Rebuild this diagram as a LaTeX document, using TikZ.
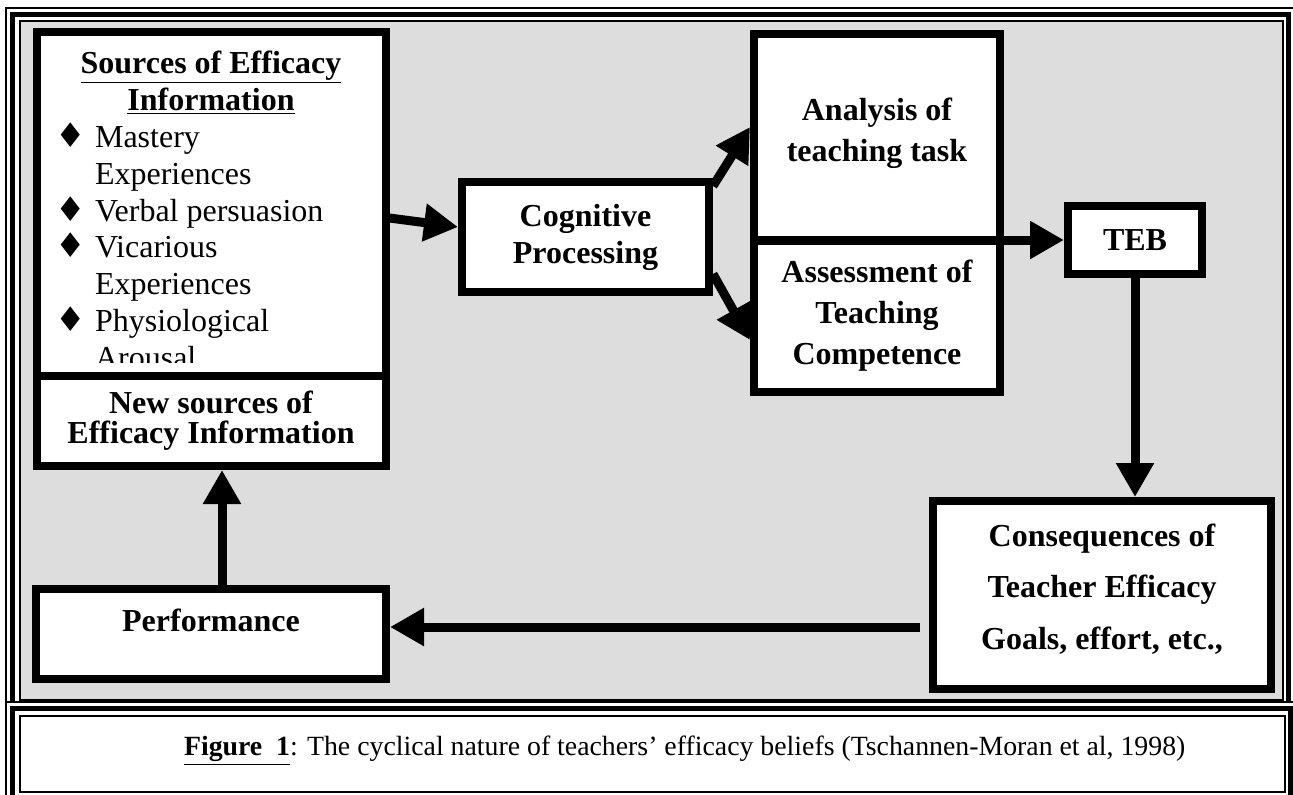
\documentclass[tikz,border=0pt]{standalone}
\usepackage{fontspec}
\setmainfont{Liberation Serif}
\newfontfamily\symfont{DejaVu Sans}
\usetikzlibrary{arrows.meta,calc}

\definecolor{panelgray}{RGB}{221,221,221}
\newcommand{\itemdia}{\makebox[20pt][l]{\symfont\fontsize{17}{17}\selectfont ♦}}
\newcommand{\itemgap}{\hspace*{20pt}}

\tikzset{
  box/.style={draw, line width=4pt, fill=white, inner sep=0pt, align=center,
    font=\bfseries\fontsize{16}{18.5}\selectfont},
  flow/.style={line width=4.5pt, -{Triangle[width=18pt,length=17pt]}},
  thinframe/.style={line width=1pt},
  thickframe/.style={line width=2.5pt},
}

\begin{document}
\begin{tikzpicture}[x=0.5pt, y=-0.5pt]
            \useasboundingbox (0,0) rectangle (1293,794);
            % ==== OUTER FRAME ====
            \draw[thinframe] (6,8) rectangle (1300,710);
            \draw[thickframe] (12.5,14.5) rectangle (1288,704);
            \draw[thinframe, fill=panelgray] (19.5,21) rectangle (1283,700);
            % ==== CAPTION FRAME ====
            \fill[white] (0,701) rectangle (1293,794);
            \draw[thinframe] (6,702) rectangle (1300,800);
            \draw[thickframe] (12.5,708.5) rectangle (1290,797);
            \draw[thinframe] (19.5,716) rectangle (1285,792);

            % ==== BOXES ====
            \node[box, minimum width=174.5pt, minimum height=172pt] (src) at (211,204) {};
            \begin{scope}
                \clip (36,32) rectangle (386,362);
                % base anchor = last line
                \node[anchor=base, align=center, font=\bfseries\fontsize{16}{18.5}\selectfont]
                    (srchead) at (211,110) {\underline{Sources of Efficacy}\\\underline{Information}};
                \node[anchor=base west, align=left, font=\fontsize{16}{18.35}\selectfont]
                    (srclist) at (48,368) {\itemdia Mastery\\\itemgap Experiences\\
                    \itemdia Verbal persuasion\\\itemdia Vicarious\\\itemgap Experiences\\
                    \itemdia Physiological\\\itemgap Arousal};
            \end{scope}
            \node[box, minimum width=174.5pt, minimum height=45pt,
                font=\bfseries\fontsize{16}{15}\selectfont] (news) at (211,421)
                {New sources of\\Efficacy Information};
            \node[box, minimum width=123.5pt, minimum height=55pt] (cog) at (585.5,237)
                {Cognitive\\Processing};
            \node[box, minimum width=123pt, minimum height=103pt, text depth=7pt,
                font=\bfseries\fontsize{16}{20.5}\selectfont] (ana) at (877,137)
                {Analysis of\\teaching task};
            \node[box, minimum width=123pt, minimum height=76pt,
                font=\bfseries\fontsize{16}{20.5}\selectfont] (ass) at (877,316)
                {Assessment of\\Teaching\\Competence};
            \node[box, minimum width=67pt, minimum height=34pt] (teb) at (1135,240) {TEB};
            \node[box, minimum width=169pt, minimum height=94pt, text depth=8.5pt,
                font=\bfseries\fontsize{16}{25.75}\selectfont] (cons) at (1102,595)
                {Consequences of\\Teacher Efficacy\\Goals, effort, etc.,};
            \node[box, minimum width=175pt, minimum height=45pt] (perf) at (211,634)
                {\raisebox{14pt}{Performance}};

            % ==== ARROWS ====
            \draw[flow] ([yshift=-7pt]src.east) -- ([yshift=5pt]cog.west);
            \draw[flow] ([yshift=-4pt]cog.north east) -- ([yshift=5pt]ana.west);
            \draw[flow] ([yshift=11pt]cog.south east) -- ([yshift=-12pt]ass.west);
            \draw[flow] ($(ana.south west)!0.5!(ass.north west)$) -- (teb.west);
            \draw[flow] (teb.south) -- (teb.south |- cons.north);
            \coordinate (consback) at (920,627);
            \draw[flow] (consback) -- (consback -| perf.east);
            \draw[flow] ([xshift=5.5pt]perf.north) -- ([xshift=5.5pt]news.south);

            % ==== Caption ====
            \node[anchor=base west, font=\fontsize{13.9}{16}\selectfont] (caption) at (177,755)
                {\textbf{\underline{Figure\ \ 1}}: The cyclical nature of teachers' efficacy beliefs (Tschannen-Moran et al, 1998)};
\end{tikzpicture}
\end{document}
